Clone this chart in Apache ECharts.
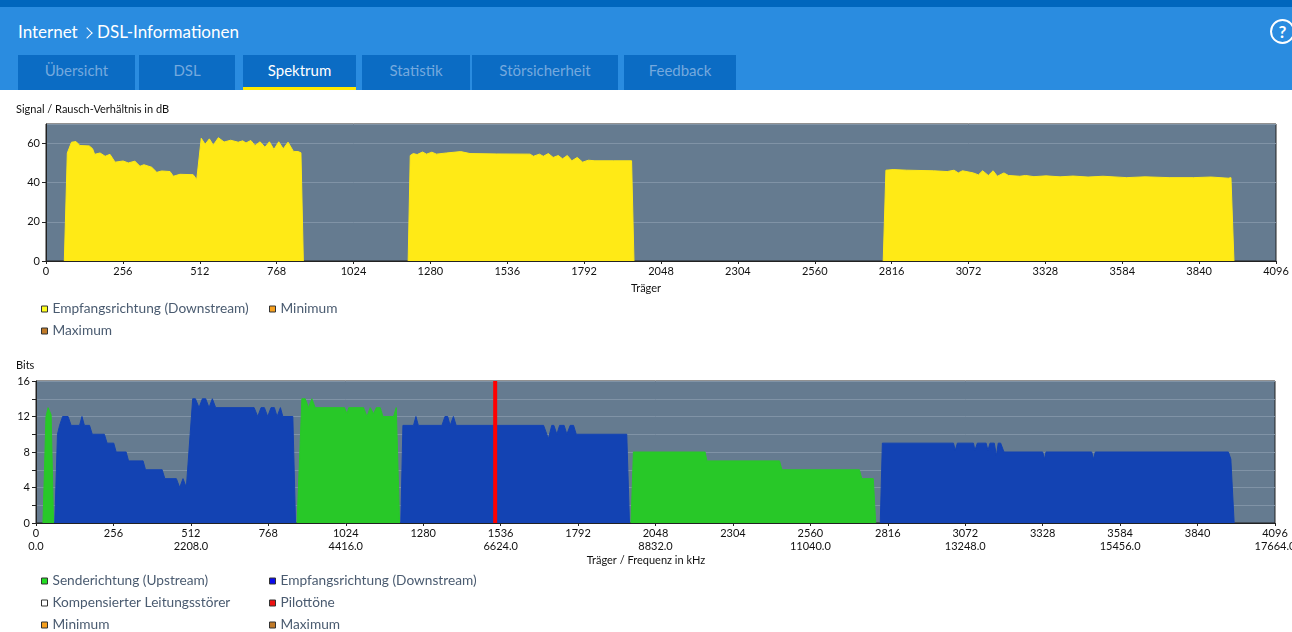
<!DOCTYPE html>
<html>
<head>
<meta charset="utf-8">
<title>DSL-Informationen - Spektrum</title>
<script src="https://cdn.jsdelivr.net/npm/echarts@6/dist/echarts.min.js"></script>
<style>
  body { margin: 0; width: 1292px; height: 632px; overflow: hidden; background: #fff; font-family: Lato, "Open Sans", sans-serif; }
  #strip { position: absolute; left: 0; top: 0; width: 1292px; height: 7px; background: #0066bd; }
  #head { position: absolute; left: 0; top: 7px; width: 1292px; height: 83px; background: #2a8ce0; }
  .crumb { position: absolute; left: 18px; top: 13px; color: #fff; font-size: 17px; line-height: 24px; }
  .crumb .sep { display: inline-block; width: 7px; height: 7px; border-top: 1.5px solid #fff; border-right: 1.5px solid #fff;
                transform: rotate(45deg); margin: 0 6px 1px 1px; vertical-align: middle; }
  .help { position: absolute; left: 1270px; top: 12px; width: 21px; height: 21px; border: 2px solid #fff; border-radius: 50%;
          color: #fff; font-weight: bold; font-size: 17px; line-height: 21px; text-align: center; }
  .tab { position: absolute; top: 48px; height: 35px; background: #0b6cc4; color: #74a9de; font-size: 15px;
         line-height: 30px; text-align: center; box-sizing: border-box; }
  .tab.on { color: #fff; border-bottom: 3px solid #ffe800; }
  .chart { position: absolute; left: 0; top: 0; width: 1292px; height: 632px; }
</style>
</head>
<body>
<div id="strip"></div>
<div id="head">
  <div class="crumb">Internet <span class="sep"></span>DSL-Informationen</div>
  <div class="help">?</div>
  <div class="tab" style="left:18px;width:117px">Übersicht</div>
  <div class="tab" style="left:139px;width:96px">DSL</div>
  <div class="tab on" style="left:243px;width:113px">Spektrum</div>
  <div class="tab" style="left:362px;width:108px">Statistik</div>
  <div class="tab" style="left:472px;width:146px">Störsicherheit</div>
  <div class="tab" style="left:624px;width:112px">Feedback</div>
</div>
<div id="snr" class="chart"></div>
<div id="bits" class="chart"></div>
<script>
// Werte: [Träger, Wert]
var snrBand1 = [[61,0],[71,55.2],[85,60.7],[100,61],[113,59],[144,58.8],[155,57.4],[162,54.5],[180,55.2],[197,53.5],
  [213,54.5],[230,50.5],[257,51.1],[274,50.1],[296,51],[313,48.4],[326,49.2],[352,47.9],[369,45.3],[385,46],
  [413,45.7],[424,43.3],[446,44.3],[490,44.1],[502,41.6],[517,62.7],[530,59.6],[544,62.4],[557,59.2],[574,63],
  [593,60.8],[615,61.7],[640,60.7],[655,61.4],[666,60.3],[682,61.6],[696,59],[713,60.9],[729,58.1],[744,60.9],
  [759,57],[775,60.9],[790,57.3],[806,60.7],[824,56],[840,55.9],[849,55.3],[857,0]];
var snrBand2 = [[1206,0],[1213,53.9],[1223,54.9],[1236,54.4],[1254,55.7],[1267,54.6],[1285,55.6],[1300,54.6],
  [1334,55.2],[1381,55.9],[1412,54.9],[1501,54.7],[1612,54.6],[1623,53.5],[1643,54.6],[1656,53.5],[1673,54.9],
  [1689,52.9],[1706,53.9],[1720,52.2],[1736,53.9],[1751,51.2],[1769,52.9],[1787,50.5],[1806,51.5],[1828,51.2],
  [1889,51.2],[1950,51.2],[1958,0]];
var snrBand3 = [[2788,0],[2797,46.4],[2821,46.7],[2866,46.4],[2955,46.1],[3001,45.7],[3024,46.4],[3038,45],
  [3052,46.1],[3088,45],[3105,44],[3119,46.1],[3138,43.7],[3154,46.1],[3168,43.3],[3190,45],[3205,43.7],
  [3243,43.3],[3262,43.7],[3290,43.1],[3330,43.5],[3377,43],[3420,43.4],[3470,42.9],[3520,43.3],[3599,42.6],
  [3660,43],[3740,42.6],[3821,42.6],[3880,42.9],[3937,42.3],[3946,42.6],[3956,0]];

var usBand0 = [[23,0],[33,12],[40,13],[45,13],[50,12.2],[58,0]];
var usBand1 = [[863,0],[879,14],[890,14],[901,13],[912,14],[923,13],[1020,13],[1028,12.3],[1034,13],[1083,13],
  [1094,12],[1105,13],[1116,12.3],[1125,13],[1138,13],[1147,12],[1182,12],[1191,13],[1202,0]];
var usBand2 = [[1967,0],[1975,8],[2212,8],[2218,7],[2458,7],[2466,6],[2722,6],[2730,5],[2768,5],[2776,0]];

var dsBand0 = [[62,0],[71,10],[78,11],[88,12],[106,12],[116,11],[144,11],[152,12],[160,11],[177,11],[186,10],
  [226,10],[235,9],[257,9],[265,8],[298,8],[306,7],[354,7],[362,6],[417,6],[426,5],[464,5],[475,4],[486,5],
  [497,4],[502,4],[518,14],[527,14],[539,13],[550,14],[561,14],[572,13],[583,14],[594,13],[721,13],[733,12],
  [744,13],[755,13],[766,12],[777,13],[788,13],[797,12],[808,13],[816,12],[849,12],[858,0]];
var dsBand1 = [[1206,0],[1213,11],[1248,11],[1256,12],[1264,11],[1342,11],[1352,12],[1361,12],[1369,11],
  [1380,12],[1389,11],[1678,11],[1694,9.5],[1705,11],[1712,11],[1722,10],[1731,11],[1746,11],[1755,10],
  [1766,11],[1777,11],[1786,10],[1953,10],[1962,0]];
var dsBand2 = [[2791,0],[2798,9],[3033,9],[3039,8.2],[3046,9],[3099,9],[3104,8.2],[3112,9],[3141,9],[3147,8.2],
  [3154,9],[3168,9],[3175,7.6],[3181,9],[3189,9],[3200,8],[3328,8],[3334,7.2],[3339,8],[3490,8],[3496,7.2],
  [3502,8],[3942,8],[3950,7.2],[3961,0]];

var pilotTones = [1518];

var snrTicks = [0, 20, 40, 60];
var bitsTicks = [0, 4, 8, 12, 16];
var carrierStep = 256;
var kHzPerCarrier = 4.3125;

var font = 'Lato, "Open Sans", sans-serif';
var plotBg = '#657b90';
var gridLine = '#8093a6';
var axisDark = '#222';
var legendText = '#4a5b70';

// Bänder mit Lücke verbinden, damit keine Linie über die Achse läuft
function joinBands(bands) {
  var out = [];
  bands.forEach(function (b, i) {
    if (i > 0) out.push([b[0][0], '-']);
    out = out.concat(b);
  });
  return out;
}

function areaSeries(name, data, color) {
  return {
    name: name, type: 'line', data: data, symbol: 'none', connectNulls: false,
    lineStyle: { width: 1, color: color }, itemStyle: { color: color },
    areaStyle: { color: color, opacity: 1 }
  };
}

function emptySeries(name, color) {
  return { name: name, type: 'line', data: [], itemStyle: { color: color } };
}

function legendBox(left, top, items) {
  return {
    left: left, top: top, height: 80, orient: 'vertical', padding: 0, itemGap: 6,
    itemWidth: 6, itemHeight: 6, icon: 'rect', selectedMode: false,
    itemStyle: { borderColor: '#333', borderWidth: 1 },
    textStyle: { color: legendText, fontSize: 13.7, fontFamily: font, lineHeight: 16 },
    data: items
  };
}

function xAxisBase(formatter) {
  return {
    type: 'value', min: 0, max: 4096, interval: carrierStep,
    axisLine: { show: true, onZero: false, lineStyle: { color: axisDark } },
    axisTick: { show: true, length: 3, lineStyle: { color: axisDark } },
    axisLabel: { color: '#111', fontSize: 11, fontFamily: font, margin: 4, lineHeight: 13, formatter: formatter },
    splitLine: { show: false }
  };
}

function yAxisBase(max, interval, ticks) {
  return {
    type: 'value', min: 0, max: max, interval: interval,
    axisLine: { show: true, lineStyle: { color: axisDark } },
    axisTick: { show: true, length: 4, lineStyle: { color: axisDark } },
    axisLabel: {
      color: '#111', fontSize: 11, fontFamily: font, margin: 6, showMaxLabel: ticks.indexOf(max) >= 0,
      formatter: function (v) { return ticks.indexOf(v) >= 0 ? String(v) : ''; }
    },
    splitLine: { show: true, lineStyle: { color: gridLine, width: 1 } }
  };
}

// Signal / Rausch-Verhältnis
var snrChart = echarts.init(document.getElementById('snr'));
snrChart.setOption({
  animation: false,
  textStyle: { fontFamily: font },
  title: [
    { text: 'Signal / Rausch-Verhältnis in dB', left: 16, top: 104, padding: 0,
      textStyle: { fontSize: 11, fontWeight: 'normal', color: '#111', fontFamily: font } },
    { text: 'Träger', left: 'center', top: 283, padding: 0,
      textStyle: { fontSize: 11, fontWeight: 'normal', color: '#111', fontFamily: font } }
  ],
  grid: { left: 46, top: 124, width: 1230, height: 137, show: true, backgroundColor: plotBg,
          borderColor: axisDark, borderWidth: 1, outerBoundsMode: 'none', containLabel: false },
  legend: [
    legendBox(41, 301, [{ name: 'Empfangsrichtung (Downstream)', itemStyle: { color: '#ffff1e' } },
                        { name: 'Maximum', itemStyle: { color: '#c07a28' } }]),
    legendBox(269, 301, [{ name: 'Minimum', itemStyle: { color: '#f7a01e' } }])
  ],
  xAxis: xAxisBase(function (v) { return String(v); }),
  yAxis: yAxisBase(70, 20, snrTicks),
  series: [
    areaSeries('Empfangsrichtung (Downstream)', joinBands([snrBand1, snrBand2, snrBand3]), '#ffea16'),
    emptySeries('Minimum', '#f7a01e'),
    emptySeries('Maximum', '#c07a28')
  ]
});

// Bits pro Träger
var pilotData = [];
pilotTones.forEach(function (p) {
  pilotData.push([p, 0], [p, 16], [p, '-']);
});

var bitsChart = echarts.init(document.getElementById('bits'));
bitsChart.setOption({
  animation: false,
  textStyle: { fontFamily: font },
  title: [
    { text: 'Bits', left: 16, top: 360, padding: 0,
      textStyle: { fontSize: 11, fontWeight: 'normal', color: '#111', fontFamily: font } },
    { text: 'Träger / Frequenz in kHz', left: 'center', top: 555, padding: 0,
      textStyle: { fontSize: 11, fontWeight: 'normal', color: '#111', fontFamily: font } }
  ],
  grid: { left: 36, top: 381, width: 1239, height: 142, show: true, backgroundColor: plotBg,
          borderColor: axisDark, borderWidth: 1, outerBoundsMode: 'none', containLabel: false },
  legend: [
    legendBox(41, 573, [{ name: 'Senderichtung (Upstream)', itemStyle: { color: '#22dd22' } },
                        { name: 'Kompensierter Leitungsstörer', itemStyle: { color: '#ffffff' } },
                        { name: 'Minimum', itemStyle: { color: '#f7a01e' } }]),
    legendBox(269, 573, [{ name: 'Empfangsrichtung (Downstream)', itemStyle: { color: '#0a0aee' } },
                         { name: 'Pilottöne', itemStyle: { color: '#ee1111' } },
                         { name: 'Maximum', itemStyle: { color: '#c07a28' } }])
  ],
  xAxis: xAxisBase(function (v) {
    if (v % (2 * carrierStep) === 0) return v + '\n' + (v * kHzPerCarrier).toFixed(1);
    return String(v);
  }),
  yAxis: yAxisBase(16, 2, bitsTicks),
  series: [
    areaSeries('Senderichtung (Upstream)', joinBands([usBand0, usBand1, usBand2]), '#28c828'),
    areaSeries('Empfangsrichtung (Downstream)', joinBands([dsBand0, dsBand1, dsBand2]), '#1343b3'),
    emptySeries('Kompensierter Leitungsstörer', '#ffffff'),
    { name: 'Pilottöne', type: 'line', data: pilotData, symbol: 'none', z: 5,
      lineStyle: { width: 4, color: '#ff0000' }, itemStyle: { color: '#ff0000' } },
    emptySeries('Minimum', '#f7a01e'),
    emptySeries('Maximum', '#c07a28')
  ]
});
</script>
</body>
</html>
